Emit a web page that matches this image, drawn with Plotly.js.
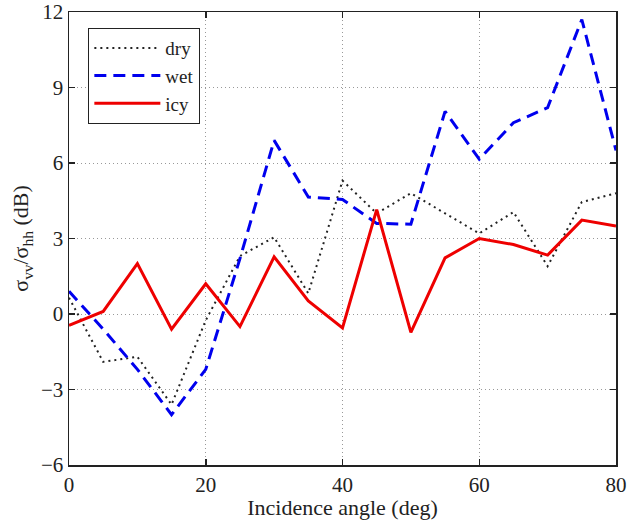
<!DOCTYPE html>
<html>
<head>
<meta charset="utf-8">
<script src="https://cdn.plot.ly/plotly-3.0.1.min.js"></script>
<style>html,body{margin:0;padding:0;background:#fff;}#chart{width:628px;height:520px;}</style>
</head>
<body>
<div id="chart"></div>
<script>
const angles = [0,5,10,15,20,25,30,35,40,45,50,55,60,65,70,75,80];
const dry = [0.65,-1.9,-1.7,-3.6,-0.25,2.3,3.05,0.82,5.3,4.0,4.8,4.0,3.2,4.05,1.9,4.45,4.8];
const wet = [0.9,-0.6,-2.2,-4.0,-2.2,2.2,6.9,4.65,4.55,3.6,3.57,8.05,6.15,7.6,8.2,11.7,6.5];
const icy = [-0.45,0.1,2.0,-0.6,1.2,-0.5,2.27,0.52,-0.55,4.15,-0.73,2.23,3.0,2.76,2.34,3.73,3.5];
const seriesNames = ['dry','wet','icy'];
const xTicks = [0,20,40,60,80];
const yTicks = [-6,-3,0,3,6,9,12];
const yTickText = ['\u22126','\u22123','0','3','6','9','12'];

const font = '"Liberation Serif", "Times New Roman", serif';
const traces = [
  {x: angles, y: dry, name: seriesNames[0], mode: 'lines', line: {color: '#222', width: 2, dash: '2px,4px'}},
  {x: angles, y: wet, name: seriesNames[1], mode: 'lines', line: {color: '#0000ee', width: 3, dash: '12px,7px'}},
  {x: angles, y: icy, name: seriesNames[2], mode: 'lines', line: {color: '#ee0000', width: 3}}
];
const axisCommon = {
  showline: true, linecolor: '#222', linewidth: 1.5, mirror: 'allticks',
  ticks: 'inside', ticklen: 6, tickcolor: '#222', tickwidth: 1.5,
  showgrid: true, gridcolor: '#999', gridwidth: 1, griddash: '1px,3px',
  zeroline: false, tickfont: {family: font, size: 21, color: '#222'}
};
const layout = {
  width: 628, height: 520,
  margin: {l: 69, r: 12, t: 12, b: 55},
  paper_bgcolor: '#fff', plot_bgcolor: '#fff',
  font: {family: font, color: '#222'},
  showlegend: true,
  legend: {
    x: 0.035, y: 0.965, xanchor: 'left', yanchor: 'top',
    bgcolor: '#fff', bordercolor: '#222', borderwidth: 1.2,
    font: {family: font, size: 19, color: '#222'},
    itemwidth: 66, tracegroupgap: 0
  },
  xaxis: Object.assign({}, axisCommon, {
    range: [0, 80], tickvals: xTicks, ticktext: xTicks.map(String),
    title: {text: 'Incidence angle (deg)', font: {family: font, size: 22, color: '#222'}, standoff: 0}
  }),
  yaxis: Object.assign({}, axisCommon, {
    range: [-6, 12], tickvals: yTicks, ticktext: yTickText,
    title: {text: '\u03c3<sub>vv</sub>/\u03c3<sub>hh</sub> (dB)', font: {family: font, size: 22, color: '#222'}, standoff: 6}
  })
};
Plotly.newPlot('chart', traces, layout, {displayModeBar: false, staticPlot: true});
</script>
</body>
</html>
